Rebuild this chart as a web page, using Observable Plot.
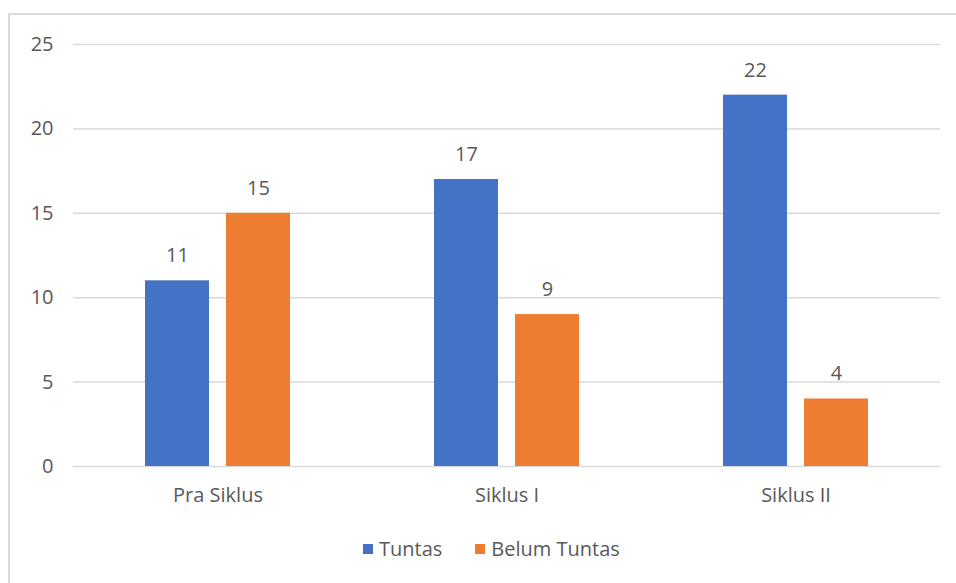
<!DOCTYPE html>
<html>
<head>
<meta charset="utf-8">
<script src="https://cdn.jsdelivr.net/npm/d3@7"></script>
<script src="https://cdn.jsdelivr.net/npm/@observablehq/plot@0.6"></script>
<style>
  html, body { margin: 0; padding: 0; background: #fff; }
  body { width: 956px; height: 583px; position: relative; overflow: hidden; font-family: "Open Sans", sans-serif; }
  #frame { position: absolute; left: 8px; top: 13px; right: -2px; bottom: -2px; border-left: 2px solid #d9d9d9; border-top: 2px solid #d9d9d9; }
  #chart { position: absolute; left: 0; top: 0; }
  #legend { position: absolute; top: 535px; left: 363px; display: flex; gap: 33px; font-size: 20px; color: #595959; }
  #legend span.item { display: flex; align-items: center; gap: 6px; }
  #legend span.sw { width: 10px; height: 10px; display: inline-block; }
</style>
</head>
<body>
<div id="frame"></div>
<div id="chart"></div>
<div id="legend"></div>
<script>
const categories = ["Pra Siklus", "Siklus I", "Siklus II"];
const seriesNames = ["Tuntas", "Belum Tuntas"];
const tuntas = [11, 17, 22];
const belumTuntas = [15, 9, 4];
const yTicks = [0, 5, 10, 15, 20, 25];
const colors = ["#4472C4", "#ED7D31"];

const data = [];
categories.forEach((c, i) => {
  data.push({siklus: c, status: seriesNames[0], value: tuntas[i]});
  data.push({siklus: c, status: seriesNames[1], value: belumTuntas[i]});
});

const chart = Plot.plot({
  width: 956,
  height: 520,
  marginTop: 44,
  marginBottom: 54,
  marginLeft: 73,
  marginRight: 16,
  style: {fontFamily: "'Open Sans', sans-serif", fontSize: "20px", color: "#595959", background: "transparent"},
  fx: {domain: categories, padding: 0, label: null, tickSize: 0, tickPadding: 21, axis: "bottom"},
  x: {domain: seriesNames, axis: null, paddingInner: 0.207, paddingOuter: 0.866},
  y: {domain: [0, 25], ticks: yTicks, label: null, tickSize: 0, tickPadding: 20, axis: "left"},
  color: {domain: seriesNames, range: colors},
  marks: [
    Plot.ruleY(yTicks, {stroke: "#d9d9d9", strokeWidth: 1.5}),
    Plot.barY(data, {fx: "siklus", x: "status", y: "value", fill: "status"}),
    Plot.text(data, {fx: "siklus", x: "status", y: "value", text: d => String(d.value), dy: -25, fill: "#595959", fontSize: 20})
  ]
});
document.getElementById("chart").appendChild(chart);

const legend = document.getElementById("legend");
seriesNames.forEach((s, i) => {
  const item = document.createElement("span");
  item.className = "item";
  const sw = document.createElement("span");
  sw.className = "sw";
  sw.style.background = colors[i];
  item.appendChild(sw);
  item.appendChild(document.createTextNode(s));
  legend.appendChild(item);
});
</script>
</body>
</html>
